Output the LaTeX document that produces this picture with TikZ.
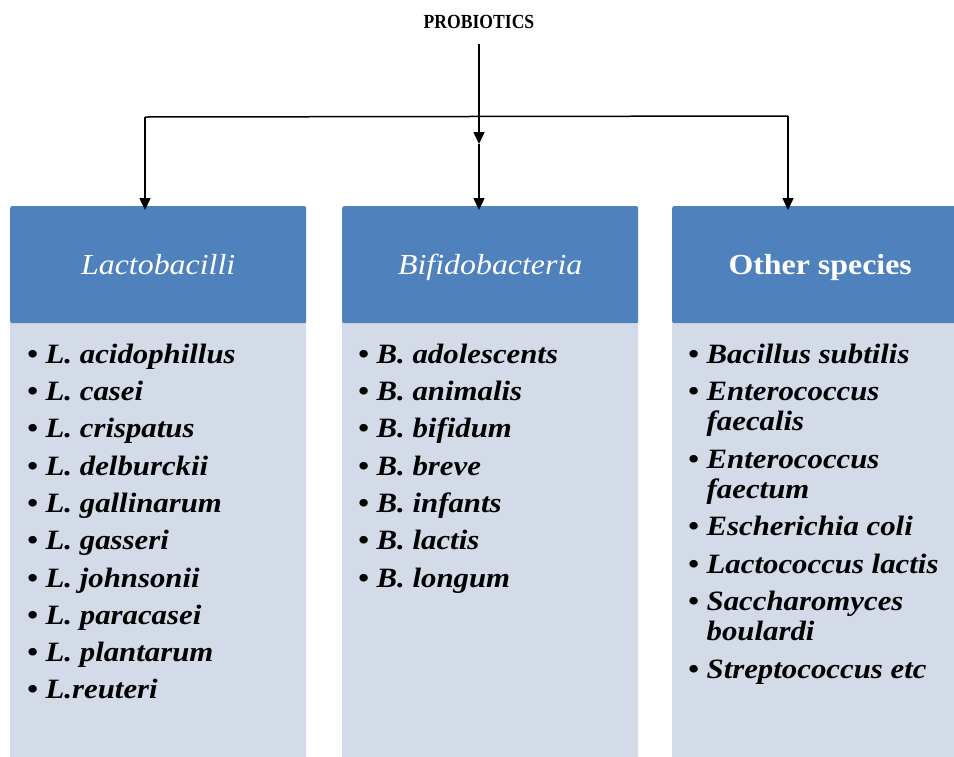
\documentclass[tikz,border=0pt]{standalone}
\usepackage{fontspec}
\setmainfont{Liberation Serif}
\newfontfamily\wideserif{Liberation Serif}[FakeStretch=1.1]
\newfontfamily\narrowserif{Liberation Serif}[FakeStretch=0.88]
\usetikzlibrary{arrows.meta,positioning}
\definecolor{headblue}{HTML}{4F81BD}
\definecolor{bodyblue}{HTML}{D3DBE8}
\begin{document}
\begin{tikzpicture}[x=1pt,y=-1pt,
    head/.style={fill=headblue, text=white, rounded corners=2pt, anchor=north west, minimum width=296pt, minimum height=117pt, inner sep=0pt, text height=20pt, text depth=0pt, font=\wideserif\fontsize{29}{30}\selectfont},
    body/.style={fill=bodyblue, rounded corners=2pt, anchor=north west, minimum width=296pt, minimum height=560pt, inner sep=0pt},
    list/.style={anchor=north west, align=left, inner sep=0pt, font=\wideserif\bfseries\itshape\fontsize{28}{30}\selectfont},
    arr/.style={->, >={Triangle[length=12pt,width=11pt]}, line width=1.5pt},
    link/.style={line width=1.5pt}]
  \useasboundingbox (0,0) rectangle (954,756);
  \clip (0,0) rectangle (954,756);

  \node[font=\narrowserif\bfseries\fontsize{20}{22}\selectfont] (prob) at (479,22) {PROBIOTICS};

  % columns
  \node[body] (lactobody) at (10,206) {};
  \node[body] (bifibody) at (342,206) {};
  \node[body] (otherbody) at (672,206) {};
  \node[head] (lacto) at (10,206) {\itshape Lactobacilli};
  \node[head] (bifi) at (342,206) {\itshape Bifidobacteria};
  \node[head] (other) at (672,206) {\bfseries Other species};

  \node[list] (lactolist) at (27,341) {\rule{0pt}{22pt}\textbullet\ L. acidophillus\\[7.3pt]
    \textbullet\ L. casei\\[7.3pt]
    \textbullet\ L. crispatus\\[7.3pt]
    \textbullet\ L. delburckii\\[7.3pt]
    \textbullet\ L. gallinarum\\[7.3pt]
    \textbullet\ L. gasseri\\[7.3pt]
    \textbullet\ L. johnsonii\\[7.3pt]
    \textbullet\ L. paracasei\\[7.3pt]
    \textbullet\ L. plantarum\\[7.3pt]
    \textbullet\ L.reuteri};
  \node[list] (bifilist) at (358,341) {\rule{0pt}{22pt}\textbullet\ B. adolescents\\[7.3pt]
    \textbullet\ B. animalis\\[7.3pt]
    \textbullet\ B. bifidum\\[7.3pt]
    \textbullet\ B. breve\\[7.3pt]
    \textbullet\ B. infants\\[7.3pt]
    \textbullet\ B. lactis\\[7.3pt]
    \textbullet\ B. longum};
  \node[list] (otherlist) at (688,341) {\rule{0pt}{22pt}\textbullet\ Bacillus subtilis\\[7.5pt]
    \textbullet\ Enterococcus\\
    \phantom{\textbullet\ }faecalis\\[7.5pt]
    \textbullet\ Enterococcus\\
    \phantom{\textbullet\ }faectum\\[7.5pt]
    \textbullet\ Escherichia coli\\[7.5pt]
    \textbullet\ Lactococcus lactis\\[7.5pt]
    \textbullet\ Saccharomyces\\
    \phantom{\textbullet\ }boulardi\\[7.5pt]
    \textbullet\ Streptococcus etc};

  % connectors
  \coordinate (jl) at (145,117);
  \coordinate (jr) at (788,116);
  \coordinate (jm) at (479,144);
  \draw[link] (jl) -- (jr);
  \draw[arr, shorten <=12pt] (prob) -- (jm);
  \draw[arr, shorten >=-4pt] (jm) -- (jm |- bifi.north);
  \draw[arr, shorten >=-4pt] (jl) -- (jl |- lacto.north);
  \draw[arr, shorten >=-4pt] (jr) -- (jr |- other.north);
\end{tikzpicture}
\end{document}
